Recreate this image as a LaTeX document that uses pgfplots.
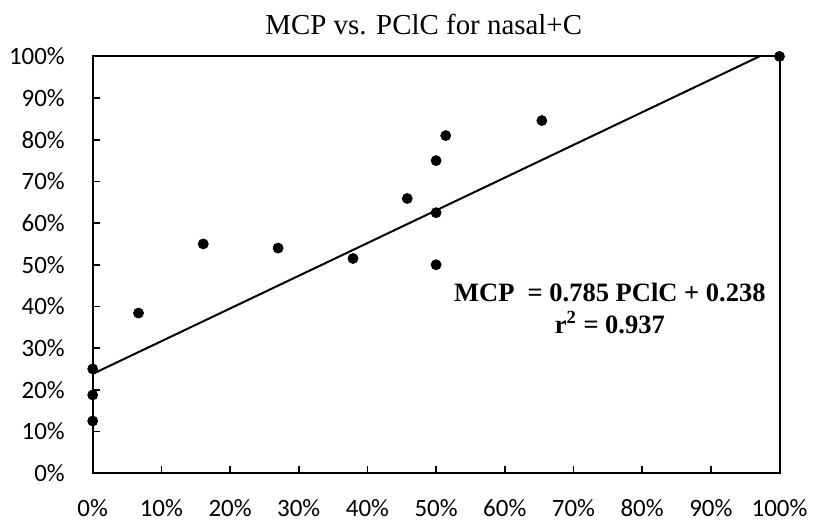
\documentclass[border=0pt]{standalone}
\usepackage{fontspec}
\setmainfont{Carlito}
\newfontfamily\tnr{Liberation Serif}
\usepackage{pgfplots}
\pgfplotsset{compat=1.18}

\begin{document}
\begin{tikzpicture}
\begin{axis}[
  scale only axis,
  width=344.5pt, height=209pt,
  xmin=0, xmax=100, ymin=0, ymax=100,
  xtick={0,10,...,100}, ytick={0,10,...,100},
  xticklabel={\pgfmathprintnumber{\tick}\%},
  yticklabel={\pgfmathprintnumber{\tick}\%},
  /pgf/number format/assume math mode=true,
  tick label style={font=\fontsize{12.5pt}{14pt}\selectfont},
  xticklabel style={yshift=-9.6pt},
  yticklabel style={xshift=-10.5pt},
  tick align=inside,
  tick pos=left,
  major tick length=3.5pt,
  every tick/.style={black, line width=0.8pt},
  axis line style={line width=1pt},
  title={\tnr MCP vs. PClC for nasal+C},
  title style={font=\fontsize{14.5pt}{16pt}\selectfont, at={(0.482,1)}, anchor=base, yshift=4.8pt},
  clip=true,
]
  % regression line
  \addplot[black, line width=1pt] coordinates {(0,23.8) (100,102.3)};
  % observed points
  \addplot[only marks, mark=*, mark size=2.5pt, black] coordinates {
    (0,12.5) (0,18.75) (0,25) (6.67,38.4) (16.1,55.0) (27.0,54.0)
    (37.9,51.5) (45.8,65.9) (50,75) (51.4,81.0) (50,62.5) (50,50)
    (65.4,84.6) (100,100)
  };
  \node[align=center, font=\tnr\bfseries\fontsize{13.3pt}{16pt}\selectfont]
    at (axis cs:75.3,39.4) {MCP\ \ = 0.785 PClC + 0.238\\r\textsuperscript{2} = 0.937};
  \coordinate (bl) at (rel axis cs:0,0);
  \coordinate (tr) at (rel axis cs:1,1);
\end{axis}
\path ([xshift=-46.5pt,yshift=-24pt]bl) rectangle ([xshift=16pt,yshift=28.3pt]tr);
\end{tikzpicture}
\end{document}
